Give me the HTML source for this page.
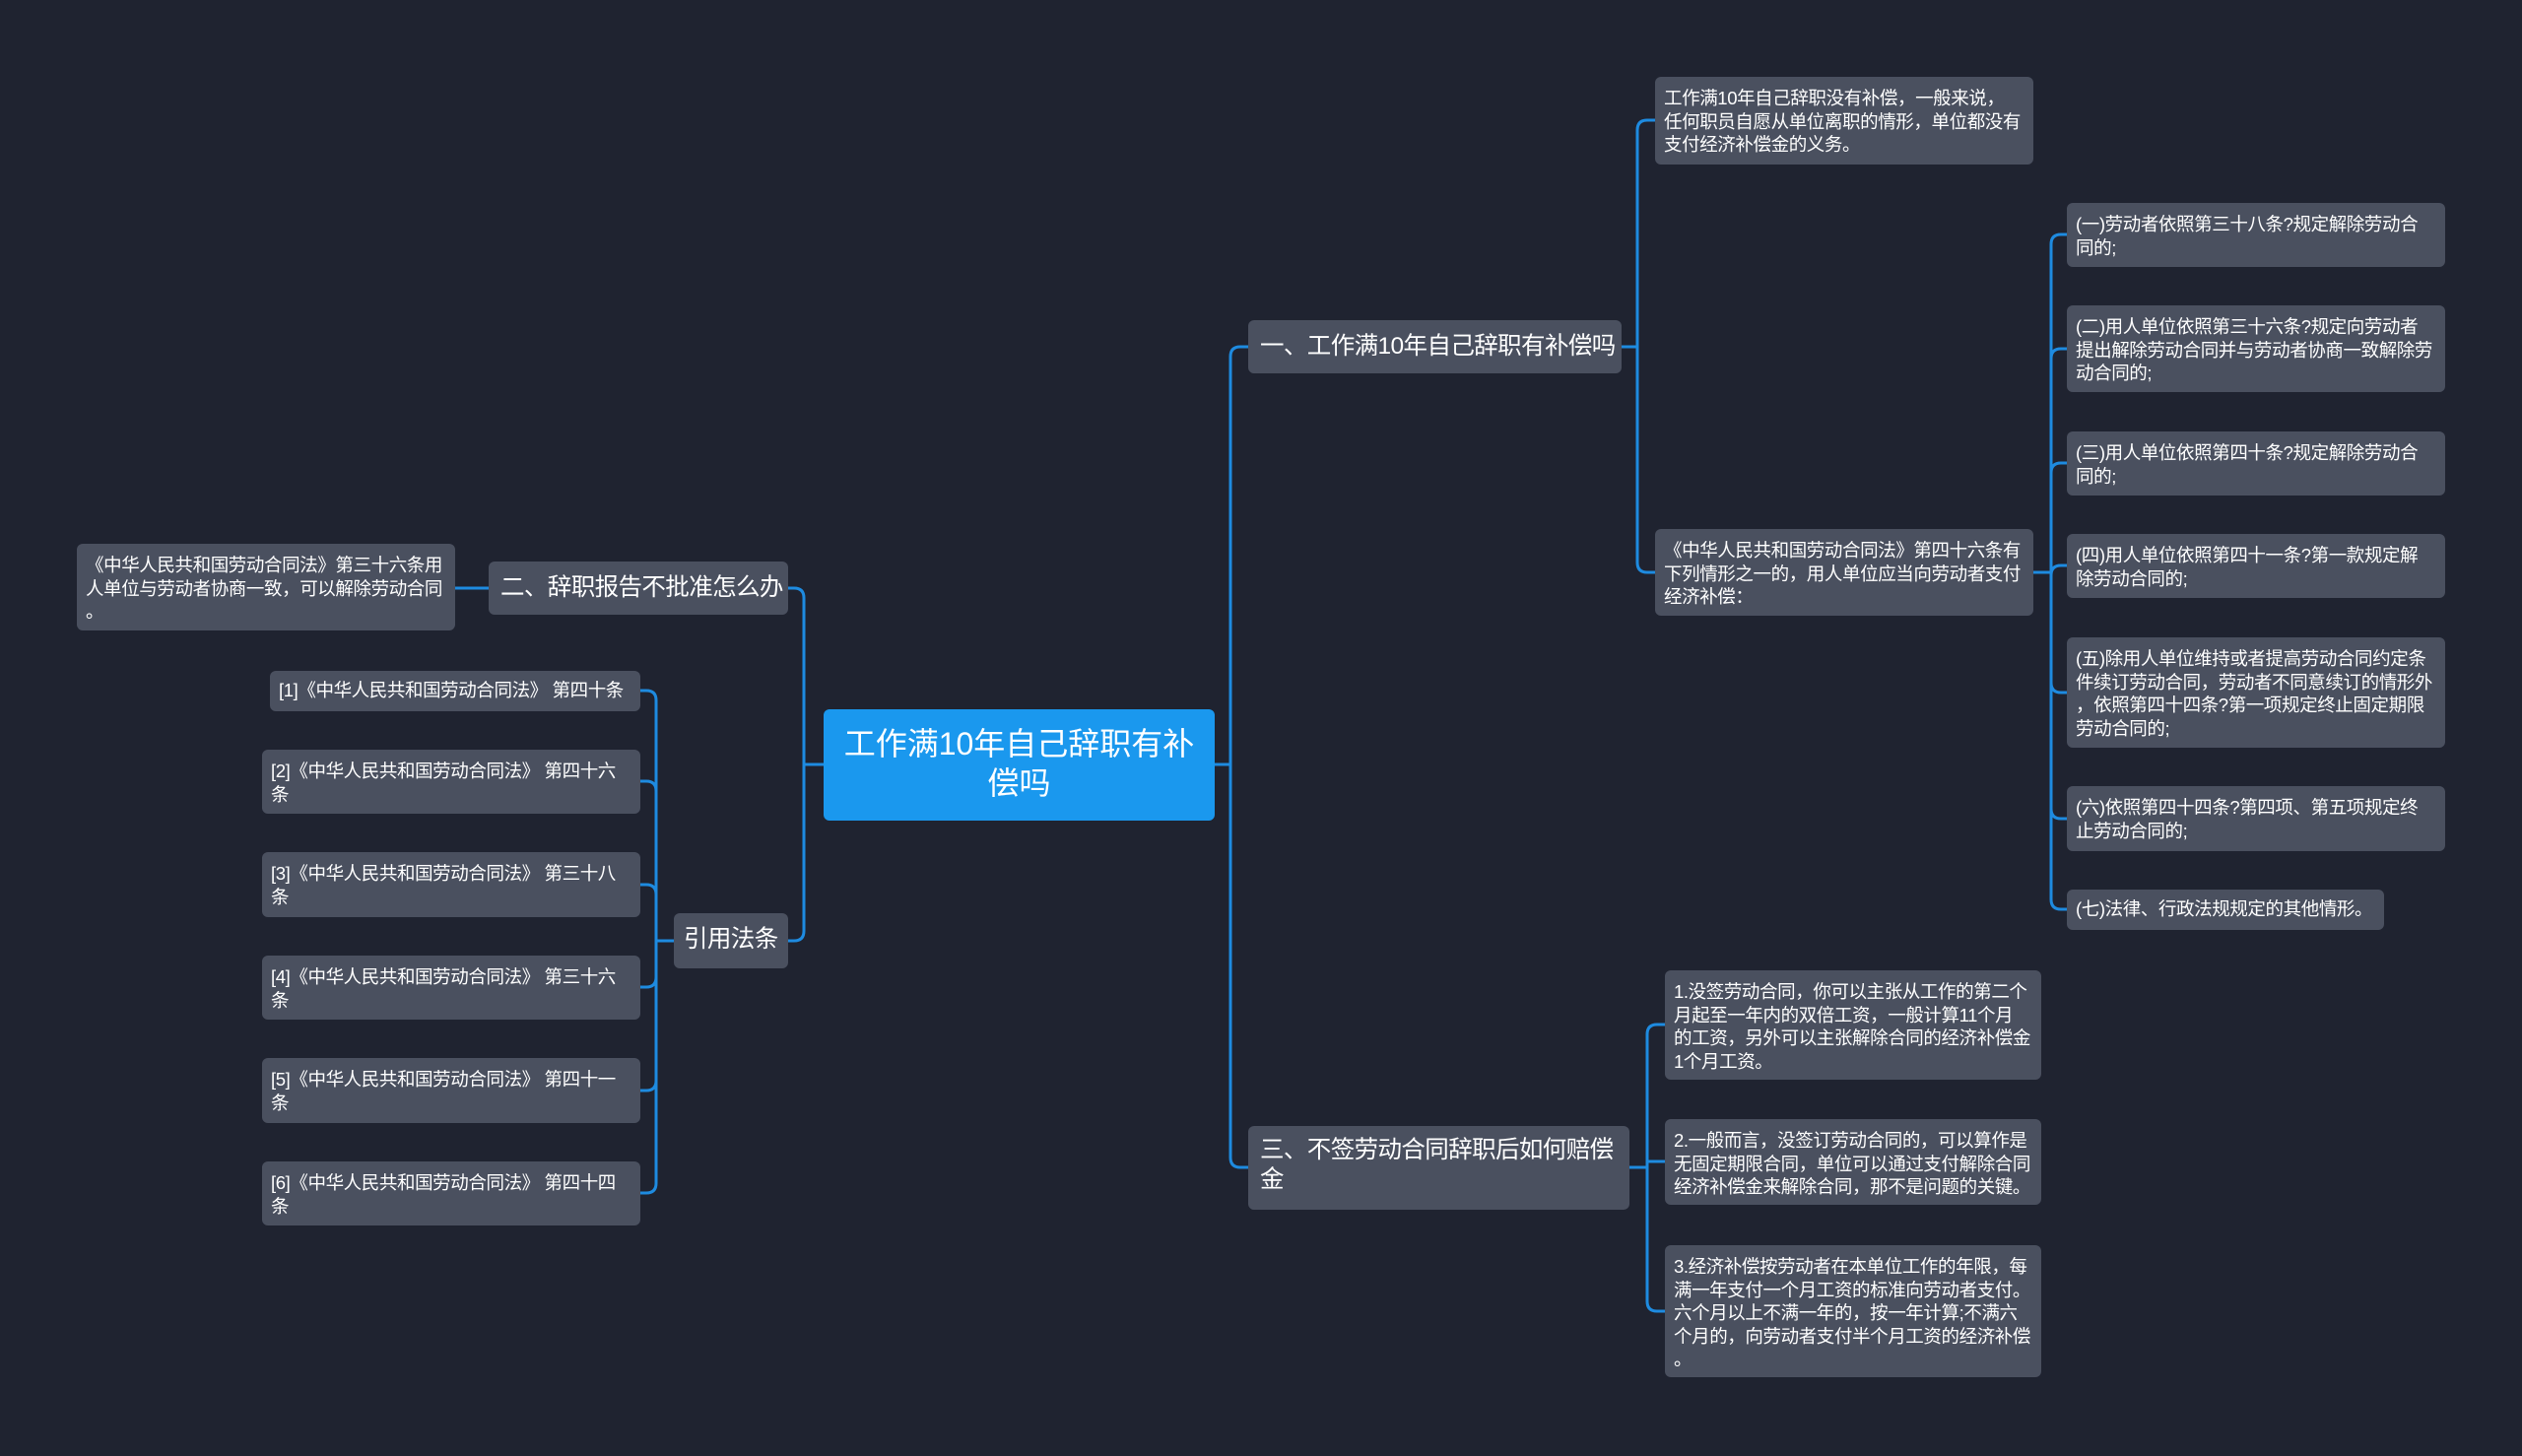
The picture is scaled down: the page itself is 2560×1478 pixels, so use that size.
<!DOCTYPE html>
<html><head><meta charset="utf-8"><style>
body{margin:0;width:2560px;height:1478px;background:#1f2330;overflow:hidden;position:relative;font-family:"Liberation Sans","Noto Sans CJK SC",sans-serif;}
.n{position:absolute;box-sizing:border-box;background:#4a505f;color:#fff;border-radius:6px;font-size:18.5px;line-height:23.5px;padding:10px 8px 8px 9px;overflow:hidden;white-space:nowrap;letter-spacing:-0.4px;}
.m{font-size:24.5px;line-height:30px;padding:12px 10px 12px 12px;letter-spacing:-0.6px;}
.c{background:#1a98ee;font-size:32px;line-height:40px;text-align:center;padding:15px 20px;border-radius:6px;letter-spacing:0;}
svg{position:absolute;left:0;top:0}
</style></head><body>
<svg width="2560" height="1478" fill="none" stroke="#1e8be0" stroke-width="3">
<path d="M1233,776 H1249 V362 Q1249,352 1259,352 H1267"/>
<path d="M1249,776 V1175 Q1249,1185 1259,1185 H1267"/>
<path d="M836,776 H816 V607 Q816,597 806,597 H800"/>
<path d="M816,776 V945 Q816,955 806,955 H800"/>
<path d="M1646,352 H1662 V132 Q1662,122 1672,122 H1680"/>
<path d="M1662,352 V571 Q1662,581 1672,581 H1680"/>
<path d="M2064,581 H2082 V248 Q2082,238 2092,238 H2098"/>
<path d="M2082,581 V364 Q2082,354 2092,354 H2098"/>
<path d="M2082,581 V480 Q2082,470 2092,470 H2098"/>
<path d="M2082,581 V584 Q2082,574 2092,574 H2098"/>
<path d="M2082,581 V693 Q2082,703 2092,703 H2098"/>
<path d="M2082,581 V821 Q2082,831 2092,831 H2098"/>
<path d="M2082,581 V913 Q2082,923 2092,923 H2098"/>
<path d="M1654,1185 H1672 V1050 Q1672,1040 1682,1040 H1690"/>
<path d="M1672,1185 V1179 H1690"/>
<path d="M1672,1185 V1321 Q1672,1331 1682,1331 H1690"/>
<path d="M496,597 H462"/>
<path d="M684,955 H666 V711 Q666,701 656,701 H650"/>
<path d="M666,955 V803 Q666,793 656,793 H650"/>
<path d="M666,955 V908 Q666,898 656,898 H650"/>
<path d="M666,955 V992 Q666,1002 656,1002 H650"/>
<path d="M666,955 V1097 Q666,1107 656,1107 H650"/>
<path d="M666,955 V1201 Q666,1211 656,1211 H650"/>
</svg>
<div class="n c" style="left:836px;top:720px;width:397px;height:113px">工作满10年自己辞职有补<br>偿吗</div>
<div class="n m" style="left:1267px;top:325px;width:379px;height:54px">一、工作满10年自己辞职有补偿吗</div>
<div class="n" style="left:1680px;top:78px;width:384px;height:89px">工作满10年自己辞职没有补偿，一般来说，<br>任何职员自愿从单位离职的情形，单位都没有<br>支付经济补偿金的义务。</div>
<div class="n" style="left:1680px;top:537px;width:384px;height:88px">《中华人民共和国劳动合同法》第四十六条有<br>下列情形之一的，用人单位应当向劳动者支付<br>经济补偿：</div>
<div class="n" style="left:2098px;top:206px;width:384px;height:65px">(一)劳动者依照第三十八条?规定解除劳动合<br>同的;</div>
<div class="n" style="left:2098px;top:310px;width:384px;height:88px">(二)用人单位依照第三十六条?规定向劳动者<br>提出解除劳动合同并与劳动者协商一致解除劳<br>动合同的;</div>
<div class="n" style="left:2098px;top:438px;width:384px;height:65px">(三)用人单位依照第四十条?规定解除劳动合<br>同的;</div>
<div class="n" style="left:2098px;top:542px;width:384px;height:65px">(四)用人单位依照第四十一条?第一款规定解<br>除劳动合同的;</div>
<div class="n" style="left:2098px;top:647px;width:384px;height:112px">(五)除用人单位维持或者提高劳动合同约定条<br>件续订劳动合同，劳动者不同意续订的情形外<br>，依照第四十四条?第一项规定终止固定期限<br>劳动合同的;</div>
<div class="n" style="left:2098px;top:798px;width:384px;height:66px">(六)依照第四十四条?第四项、第五项规定终<br>止劳动合同的;</div>
<div class="n" style="left:2098px;top:903px;width:322px;height:41px;padding-top:8px">(七)法律、行政法规规定的其他情形。</div>
<div class="n m" style="left:1267px;top:1143px;width:387px;height:85px;padding-top:10px">三、不签劳动合同辞职后如何赔偿<br>金</div>
<div class="n" style="left:1690px;top:985px;width:382px;height:111px">1.没签劳动合同，你可以主张从工作的第二个<br>月起至一年内的双倍工资，一般计算11个月<br>的工资，另外可以主张解除合同的经济补偿金<br>1个月工资。</div>
<div class="n" style="left:1690px;top:1136px;width:382px;height:87px">2.一般而言，没签订劳动合同的，可以算作是<br>无固定期限合同，单位可以通过支付解除合同<br>经济补偿金来解除合同，那不是问题的关键。</div>
<div class="n" style="left:1690px;top:1264px;width:382px;height:134px">3.经济补偿按劳动者在本单位工作的年限，每<br>满一年支付一个月工资的标准向劳动者支付。<br>六个月以上不满一年的，按一年计算;不满六<br>个月的，向劳动者支付半个月工资的经济补偿<br>。</div>
<div class="n m" style="left:496px;top:570px;width:304px;height:54px">二、辞职报告不批准怎么办</div>
<div class="n" style="left:78px;top:552px;width:384px;height:88px">《中华人民共和国劳动合同法》第三十六条用<br>人单位与劳动者协商一致，可以解除劳动合同<br>。</div>
<div class="n m" style="left:684px;top:927px;width:116px;height:56px;padding:12px 10px">引用法条</div>
<div class="n" style="left:274px;top:681px;width:376px;height:41px;padding-top:8px">[1]《中华人民共和国劳动合同法》 第四十条</div>
<div class="n" style="left:266px;top:761px;width:384px;height:65px">[2]《中华人民共和国劳动合同法》 第四十六<br>条</div>
<div class="n" style="left:266px;top:865px;width:384px;height:66px">[3]《中华人民共和国劳动合同法》 第三十八<br>条</div>
<div class="n" style="left:266px;top:970px;width:384px;height:65px">[4]《中华人民共和国劳动合同法》 第三十六<br>条</div>
<div class="n" style="left:266px;top:1074px;width:384px;height:66px">[5]《中华人民共和国劳动合同法》 第四十一<br>条</div>
<div class="n" style="left:266px;top:1179px;width:384px;height:65px">[6]《中华人民共和国劳动合同法》 第四十四<br>条</div>
</body></html>
